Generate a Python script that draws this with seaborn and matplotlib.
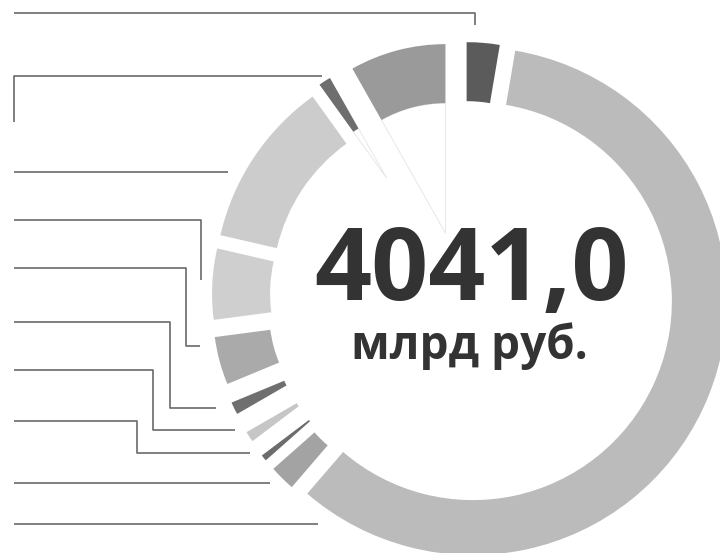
import numpy as np
import matplotlib
matplotlib.use("Agg")
import matplotlib.pyplot as plt
from matplotlib.patches import Wedge
import seaborn as sns

# %% Data: budget parts, bn rub, clockwise from 12 o'clock (sum = 4041.0)
parts = ["1", "2", "3", "4", "5", "6", "7", "8", "9", "10", "11"]
values = [107.8, 2369.5, 87.6, 50.5, 78.6, 84.2, 168.4, 230.1, 463.6, 69.6, 331.1]
total_text = "4041,0"
unit_text = "млрд руб."

# %% Style: grey shades, how far each slice is pulled out, its radius and ring width (px)
colors = ["#5b5b5b", "#bbbbbb", "#a3a3a3", "#6c6c6c", "#c6c6c6", "#6f6f6f",
          "#aaaaaa", "#cfcfcf", "#cccccc", "#6e6e6e", "#9a9a9a"]
explode = [55, 12, 65, 176, 167, 157, 65, 49, 14, 140, 65]
radius = [199, 254, 191, 80, 88, 97, 186, 201, 236, 115, 189]
ring = [59, 55, 55, 59, 58, 57, 56, 58, 58, 58, 59]
ghost = [False, False, False, False, False, False, False, False, False, True, True]
center = (462, 296)

# leader lines (label texts are not in the picture)
leaders = [
    [(14, 13), (475, 13), (475, 25)],
    [(14, 122), (14, 76), (322, 76)],
    [(14, 172), (228, 172)],
    [(14, 220), (201, 220), (201, 280)],
    [(14, 268), (186, 268), (186, 346), (200, 346)],
    [(14, 322), (170, 322), (170, 408), (216, 408)],
    [(14, 370), (153, 370), (153, 430), (235, 430)],
    [(14, 421), (137, 421), (137, 453), (250, 453)],
    [(14, 483), (270, 483)],
    [(14, 524), (318, 524)],
]

sns.set_style("white")
plt.rcParams['font.family'] = ['Open Sans', 'DejaVu Sans']

fig = plt.figure(figsize=(7.2, 5.53), dpi=100)
ax = fig.add_axes([0, 0, 1, 1])
ax.set_xlim(0, 720)
ax.set_ylim(553, 0)
ax.set_aspect('equal')
ax.axis('off')

# %% Exploded donut, each slice pulled out along its middle
vals = np.array(values)
spans = vals / vals.sum() * 360
starts = np.cumsum(spans) - spans

for i in range(len(vals)):
    a1 = starts[i]
    a2 = a1 + spans[i]
    mid = np.radians((a1 + a2) / 2)
    apex = (center[0] + explode[i] * np.sin(mid), center[1] - explode[i] * np.cos(mid))
    # angles in this (y down) frame: clockwise from top -> minus 90
    if ghost[i]:
        ax.add_patch(Wedge(apex, radius[i] - ring[i], a1 - 90, a2 - 90,
                           facecolor='white', edgecolor='#e4e4e4', lw=0.6, zorder=1))
    ax.add_patch(Wedge(apex, radius[i], a1 - 90, a2 - 90, width=ring[i],
                       facecolor=colors[i], edgecolor='none', zorder=2))

for pts in leaders:
    xs, ys = zip(*pts)
    ax.plot(xs, ys, color='#6a6a6a', lw=1.2, solid_capstyle='butt', zorder=3)

ax.text(471, 300, total_text, ha='center', va='baseline', fontsize=72,
        fontweight='bold', color='#333333', zorder=4)
ax.text(469, 359, unit_text, ha='center', va='baseline', fontsize=33,
        fontweight='bold', color='#333333', zorder=4)

fig.savefig('out.png', dpi=100)
